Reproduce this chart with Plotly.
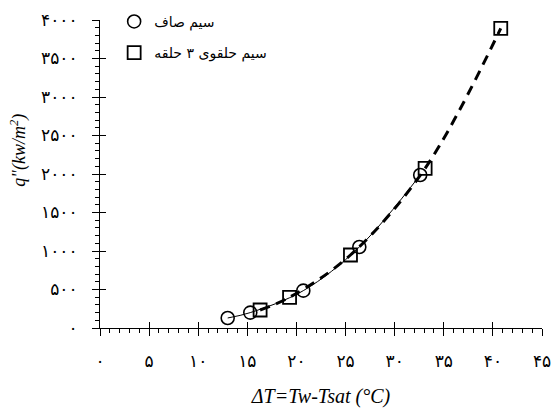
import plotly.graph_objects as go

# Data
plain_x = [13.0, 15.3, 20.7, 26.4, 32.6]
plain_y = [130, 200, 485, 1052, 1987]
ring_x = [16.3, 19.3, 25.5, 33.1, 40.8]
ring_y = [234, 399, 948, 2074, 3892]

series_names = ["سیم صاف", "سیم حلقوی ۳ حلقه"]

x_tickvals = [0, 5, 10, 15, 20, 25, 30, 35, 40, 45]
x_ticktext = ["۰", "۵", "۱۰", "۱۵", "۲۰", "۲۵", "۳۰", "۳۵", "۴۰", "۴۵"]
y_tickvals = [0, 500, 1000, 1500, 2000, 2500, 3000, 3500, 4000]
y_ticktext = ["۰", "۵۰۰", "۱۰۰۰", "۱۵۰۰", "۲۰۰۰", "۲۵۰۰", "۳۰۰۰", "۳۵۰۰", "۴۰۰۰"]

fig = go.Figure()

# fitted curves
fig.add_trace(go.Scatter(x=ring_x, y=ring_y, mode="lines", showlegend=False,
                         line=dict(color="black", width=3, dash="10px,7px", shape="spline")))
fig.add_trace(go.Scatter(x=plain_x, y=plain_y, mode="lines", showlegend=False,
                         line=dict(color="black", width=1, shape="spline")))

# markers
fig.add_trace(go.Scatter(x=plain_x, y=plain_y, mode="markers", name=series_names[0],
                         legendgroup="a",
                         marker=dict(symbol="circle-open", size=13, color="black",
                                     line=dict(width=1.6, color="black"))))
fig.add_trace(go.Scatter(x=ring_x, y=ring_y, mode="markers", name=series_names[1],
                         legendgroup="b",
                         marker=dict(symbol="square-open", size=13, color="black",
                                     line=dict(width=1.8, color="black"))))

# empty trace so the overlay axes (inner halves of the crossing ticks) are drawn
fig.add_trace(go.Scatter(x=[], y=[], xaxis="x2", yaxis="y2", showlegend=False,
                         hoverinfo="skip"))

tick_font = dict(family="DejaVu Sans", size=17, color="black")
axis_common = dict(showgrid=False, zeroline=False, showline=True, linecolor="black",
                   linewidth=1, ticks="outside", tickcolor="black", ticklen=7,
                   tickfont=tick_font)

fig.update_layout(
    xaxis=dict(range=[0, 45], tickvals=x_tickvals, ticktext=x_ticktext,
               minor=dict(dtick=1, ticks="outside", ticklen=4, tickcolor="black", showgrid=False),
               ticklabelstandoff=11,
               title=dict(text="<i>ΔT=Tw-Tsat (°C)</i>", standoff=20,
                          font=dict(family="Liberation Serif", size=20, color="black")),
               **axis_common),
    yaxis=dict(range=[0, 4000], tickvals=y_tickvals, ticktext=y_ticktext,
               minor=dict(dtick=100, ticks="outside", ticklen=4, tickcolor="black", showgrid=False),
               ticklabelstandoff=11,
               **axis_common),
    xaxis2=dict(overlaying="x", anchor="y2", side="bottom", range=[0, 45], tickvals=x_tickvals,
                ticks="inside", ticklen=6, tickcolor="black", showticklabels=False,
                showline=False, showgrid=False, zeroline=False),
    yaxis2=dict(overlaying="y", anchor="x2", side="left", range=[0, 4000], tickvals=y_tickvals,
                ticks="inside", ticklen=6, tickcolor="black", showticklabels=False,
                showline=False, showgrid=False, zeroline=False),
)

fig.add_annotation(text="<i>q\"(kw/m<sup>2</sup>)</i>", textangle=-90,
                   xref="paper", yref="paper", x=-0.184, y=0.578,
                   xanchor="center", yanchor="middle", showarrow=False,
                   font=dict(family="Liberation Serif", size=18, color="black"))

fig.update_layout(
    width=552, height=408,
    margin=dict(l=100, r=10, t=20, b=80, autoexpand=False),
    plot_bgcolor="white", paper_bgcolor="white",
    legend=dict(x=0.032, y=1.046, xanchor="left", yanchor="top",
                bgcolor="rgba(0,0,0,0)", tracegroupgap=10,
                font=dict(family="DejaVu Sans", size=14, color="black")),
)

fig.write_html("out.html", config={"displayModeBar": False},
               post_script="document.body.style.margin='0';document.body.style.overflow='hidden';")
